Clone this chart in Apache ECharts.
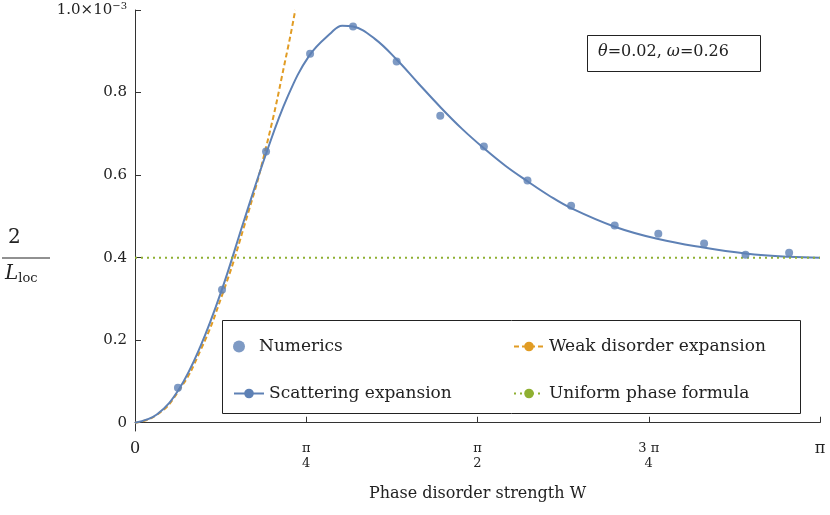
<!DOCTYPE html>
<html>
<head>
<meta charset="utf-8">
<script src="https://cdn.jsdelivr.net/npm/echarts@6/dist/echarts.min.js"></script>
<style>html,body{margin:0;padding:0;background:#fff}#chart{width:830px;height:515px}</style>
</head>
<body>
<div id="chart"></div>
<script>
// values in units of 1e-3
const numericsX = [0.197, 0.399, 0.601, 0.803, 1.0, 1.2, 1.4, 1.6, 1.8, 2.0, 2.2, 2.4, 2.61, 2.8, 3.0];
const numericsY = [0.085, 0.322, 0.657, 0.894, 0.96, 0.875, 0.744, 0.669, 0.587, 0.526, 0.478, 0.458, 0.434, 0.407, 0.412];

const scatterX = [0, 0.1, 0.2, 0.3, 0.4, 0.5, 0.6, 0.7, 0.8, 0.9, 0.95, 1.0, 1.1, 1.2, 1.3, 1.4, 1.5, 1.6, 1.7, 1.8, 1.9, 2.0, 2.2, 2.4, 2.6, 2.8, 3.0, 3.1416];
const scatterY = [0, 0.02, 0.08, 0.185, 0.325, 0.49, 0.65, 0.79, 0.89, 0.945, 0.962, 0.96, 0.93, 0.88, 0.822, 0.765, 0.712, 0.665, 0.622, 0.585, 0.55, 0.52, 0.475, 0.445, 0.425, 0.41, 0.402, 0.4];

const weakX = [0, 0.1, 0.2, 0.3, 0.4, 0.5, 0.6, 0.7, 0.735];
const weakY = [0, 0.019, 0.077, 0.175, 0.31, 0.475, 0.665, 0.905, 1.0];

const uniformX = [0, 3.1416];
const uniformY = [0.4, 0.4];

const xTickLabels = {0: '0', 1: '{n|π}\n{d|4}', 2: '{n|π}\n{d|2}', 3: '{n|3 π}\n{d|4}', 4: 'π'};

const pair = (xs, ys) => xs.map((x, i) => [x, ys[i]]);
const font = 'DejaVu Serif';
const blue = '#5e81b5', orange = '#e19c24', olive = '#8fb032';

const chart = echarts.init(document.getElementById('chart'));
chart.setOption({
    textStyle: { fontFamily: font, color: '#222' },
    animation: false,
    grid: { left: 135, right: 10, top: 10, bottom: 84 },
    xAxis: {
        type: 'value', min: 0, max: Math.PI, interval: Math.PI / 4,
        splitLine: { show: false },
        axisLine: { lineStyle: { color: '#333' } },
        axisTick: { inside: true, length: 6, lineStyle: { color: '#333' } },
        axisLabel: {
            fontFamily: font, fontSize: 16, color: '#222', margin: 10,
            formatter: v => xTickLabels[Math.round(v / (Math.PI / 4))],
            rich: { n: { fontSize: 13, fontFamily: font, lineHeight: 15 }, d: { fontSize: 13, fontFamily: font, lineHeight: 15 } }
        },
        name: 'Phase disorder strength W', nameLocation: 'middle', nameGap: 55,
        nameTextStyle: { fontFamily: font, fontSize: 16, color: '#222' }
    },
    yAxis: {
        type: 'value', min: -0.02, max: 1.0,
        splitLine: { show: false },
        axisLine: { show: true, lineStyle: { color: '#333' } },
        axisTick: { show: true, inside: true, length: 6, customValues: [0, 0.2, 0.4, 0.6, 0.8, 1.0], lineStyle: { color: '#333' } },
        axisLabel: {
            fontFamily: font, fontSize: 15, color: '#222',
            customValues: [0, 0.2, 0.4, 0.6, 0.8, 1.0],
            formatter: v => v === 0 ? '0' : (v >= 0.999 ? '1.0×10{s|−3}' : v.toFixed(1)),
            rich: { s: { fontSize: 10, fontFamily: font, verticalAlign: 'top', padding: [0, 0, 8, 0] } }
        }
    },
    legend: [
        { data: ['Numerics'], left: 228, top: 333 },
        { data: ['Weak disorder expansion'], left: 508, top: 333 },
        { data: ['Scattering expansion'], left: 228, top: 380 },
        { data: ['Uniform phase formula'], left: 508, top: 380 }
    ].map(l => Object.assign(l, {
        orient: 'horizontal', itemWidth: 30, itemHeight: 12, itemGap: 8, z: 10,
        textStyle: { fontFamily: font, fontSize: 17, color: '#222' }
    })),
    graphic: [
        { type: 'rect', shape: { x: 222.5, y: 320.5, width: 578, height: 93 }, style: { fill: '#fff', stroke: '#222', lineWidth: 1 }, z: 1 },
        { type: 'rect', shape: { x: 587.5, y: 35.5, width: 173, height: 36 }, style: { fill: '#fff', stroke: '#222', lineWidth: 1 }, z: 5 },
        { type: 'text', left: 598, top: 44, style: { text: '{i|θ}=0.02, {i|ω}=0.26', fontFamily: font, fontSize: 16, fill: '#222', rich: { i: { fontStyle: 'italic', fontFamily: font, fontSize: 16 } } }, z: 6 },
        { type: 'text', left: 8, top: 228, style: { text: '2', fontFamily: font, fontSize: 20, fill: '#222', x: 12 }, z: 6 },
        { type: 'line', shape: { x1: 2, y1: 258, x2: 50, y2: 258 }, style: { stroke: '#222', lineWidth: 1 } },
        { type: 'text', left: 5, top: 264, style: { text: '{i|L}{s|loc}', fontFamily: font, fontSize: 20, fill: '#222', rich: { i: { fontStyle: 'italic', fontSize: 20, fontFamily: font }, s: { fontSize: 13, fontFamily: font, padding: [10, 0, 0, 0] } } }, z: 6 }
    ],
    series: [
        { name: 'Numerics', type: 'scatter', data: pair(numericsX, numericsY), symbolSize: 8, itemStyle: { color: blue }, z: 4 },
        { name: 'Weak disorder expansion', type: 'line', data: pair(weakX, weakY), smooth: true, showSymbol: false, symbol: 'none', clip: true, lineStyle: { color: orange, type: [5, 3], width: 2 }, itemStyle: { color: orange } },
        { name: 'Scattering expansion', type: 'line', data: pair(scatterX, scatterY), smooth: 0.4, symbol: 'none', lineStyle: { color: blue, width: 2 }, itemStyle: { color: blue }, z: 3 },
        { name: 'Uniform phase formula', type: 'line', data: pair(uniformX, uniformY), symbol: 'none', lineStyle: { color: olive, type: [2, 4], width: 2 }, itemStyle: { color: olive } }
    ]
});
</script>
</body>
</html>
